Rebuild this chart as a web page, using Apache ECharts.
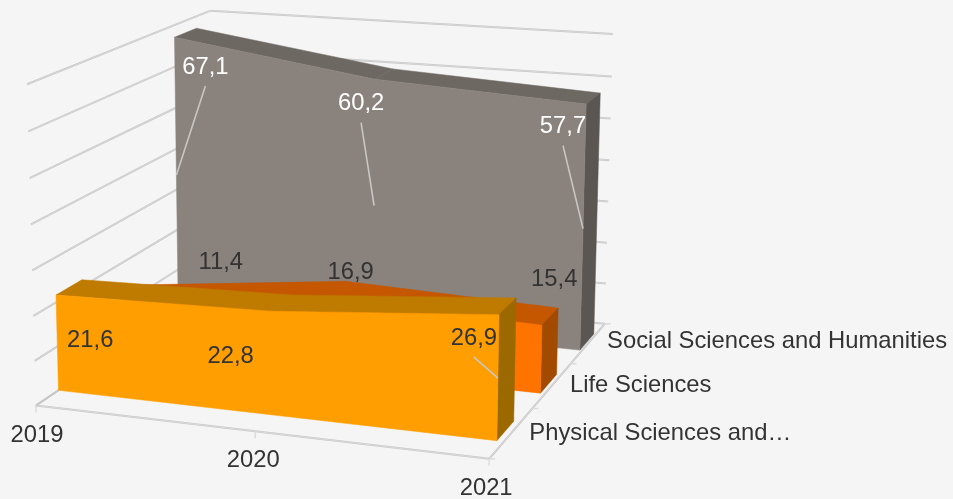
<!DOCTYPE html>
<html><head><meta charset="utf-8">
<script src="https://cdn.jsdelivr.net/npm/echarts@6/dist/echarts.min.js"></script>
<style>html,body{margin:0;padding:0;background:#f5f5f5}#c{width:953px;height:499px}</style>
</head><body><div id="c"></div>
<script>
// ---- data ----
var years = ['2019', '2020', '2021'];
var yTicks = [0, 10, 20, 30, 40, 50, 60, 70];
var depthNames = ['Physical Sciences and…', 'Life Sciences', 'Social Sciences and Humanities'];
var physical = [21.6, 22.8, 26.9];
var life = [11.4, 16.9, 15.4];
var social = [67.1, 60.2, 57.7];
var physicalText = ['21,6', '22,8', '26,9'];
var lifeText = ['11,4', '16,9', '15,4'];
var socialText = ['67,1', '60,2', '57,7'];

// ---- layout: camera anchors [x,y,z] -> pixel, used to solve a perspective matrix ----
var anchors = [
  [0,0,0,37,403],[0,0,0,37,403],[0,1,0,27,84],[1,0,0,487,460],[1,0,0,487,460],[1,0,0,487,460],[0,1,1,212,9],[1,0,1,604,321],[1,1,1,612.5,34],
  [0,0,1,212,293],[1,0,1/3,533,407],[1,0,2/3,570,362],[0,4/7,0,31,223],[1,4/7,1,607.5,159],
  [0,0,.11,57,390],[.985,0,.11,498,441],[.985,.384,.11,498,318],[0,.309,.11,55,296],
  [.985,0,.24,517,422],[.985,.384,.24,517,300],[0,.309,.24,82,279],
  [.99,0,.44,542,393],[.99,.22,.44,543,325],[.99,0,.58,558,373],[.99,.22,.58,559,310],
  [.995,0,.775,579,349],[.995,.824,.775,586,105],[0,.959,.775,175,37],
  [.995,0,.91,595,332],[.995,.824,.91,600,94],[0,.959,.91,196,28]
];
function solveCamera(a){
  var n=11,M=[],i,j,k;
  for(i=0;i<n;i++){M[i]=[];for(j=0;j<=n;j++)M[i][j]=0;}
  function add(r,b){for(var p=0;p<n;p++){for(var q=0;q<n;q++)M[p][q]+=r[p]*r[q];M[p][n]+=r[p]*b;}}
  a.forEach(function(t){var x=t[0],y=t[1],z=t[2],u=t[3],v=t[4];
    add([x,y,z,1,0,0,0,0,-u*x,-u*y,-u*z],u);
    add([0,0,0,0,x,y,z,1,-v*x,-v*y,-v*z],v);});
  for(i=0;i<n;i++){var b=i;for(k=i+1;k<n;k++)if(Math.abs(M[k][i])>Math.abs(M[b][i]))b=k;
    var t=M[i];M[i]=M[b];M[b]=t;
    for(k=0;k<n;k++){if(k===i)continue;var f=M[k][i]/M[i][i];for(j=i;j<=n;j++)M[k][j]-=f*M[i][j];}}
  var s=[];for(i=0;i<n;i++)s[i]=M[i][n]/M[i][i];return s;
}
var P=solveCamera(anchors);
function project(x,y,z){
  var w=P[8]*x+P[9]*y+P[10]*z+1;
  return [(P[0]*x+P[1]*y+P[2]*z+P[3])/w,(P[4]*x+P[5]*y+P[6]*z+P[7])/w];
}
var W=953,H=499;
// axis scale -> normalised position, through the (hidden) cartesian axes
function norm(api,i,v){var c=api.coord([i,v]);return [c[0]/W,1-c[1]/H];}
function pt(api,i,v,z,xMax){var n=norm(api,i,v);return project(n[0]*xMax,n[1],z);}

var font='23.8px "Liberation Sans", Arial, sans-serif';
var dark='#333333';
var yearLabelOffsets=[[1,30],[-2,29],[-3,30]];
var depthLabelOffsets=[[18,1],[18,0],[19,-2]];
function text(s,x,y,fill,align){return {type:'text',silent:true,style:{text:s,x:x,y:y,fill:fill,font:font,
  textAlign:align||'center',textVerticalAlign:'middle',align:align||'center',verticalAlign:'middle'}};}

var seriesCfg=[
 {name:'Social Sciences and Humanities',values:social,labels:socialText,z0:.775,z1:.91,xMax:.995,
  front:'#8a827d',top:'#6e6863',side:'#5b5652',fill:'#ffffff',
  offs:[[29,-108],[-13,-102],[-20,-102]],leader:[1,1,1]},
 {name:'Life Sciences',values:life,labels:lifeText,z0:.44,z1:.58,xMax:.99,
  front:'#ff7300',top:'#c55700',side:'#a24a00',fill:dark,
  offs:[[100,-62],[26,-61],[13,-80]],leader:[0,0,0]},
 {name:'Physical Sciences and Technology',values:physical,labels:physicalText,z0:.11,z1:.24,xMax:.985,
  front:'#ff9e00',top:'#bf7b00',side:'#9c6800',fill:dark,
  offs:[[33,-2],[-40,-7],[-24,-40]],leader:[0,0,1]}
];

function poly(points,color,z2){return {type:'polygon',silent:true,z2:z2||0,shape:{points:points},
  style:{fill:color,stroke:color,lineWidth:.5}};}
function line(a,b,color,w){return {type:'line',silent:true,shape:{x1:a[0],y1:a[1],x2:b[0],y2:b[1]},
  style:{stroke:color,lineWidth:w,fill:null}};}

function renderArea(cfg){
  return function(params,api){
    var kids=[],i=params.dataIndex,n=cfg.values.length,j;
    if(i===0){
      var fr=[],bk=[];
      for(j=0;j<n;j++){fr.push(pt(api,j,cfg.values[j],cfg.z0,cfg.xMax));bk.push(pt(api,j,cfg.values[j],cfg.z1,cfg.xMax));}
      for(j=0;j<n-1;j++)kids.push(poly([fr[j],fr[j+1],bk[j+1],bk[j]],cfg.top));
      var last=n-1;
      kids.push(poly([fr[last],bk[last],pt(api,last,0,cfg.z1,cfg.xMax),pt(api,last,0,cfg.z0,cfg.xMax)],cfg.side));
      var face=fr.slice();
      face.push(pt(api,last,0,cfg.z0,cfg.xMax));face.push(pt(api,0,0,cfg.z0,cfg.xMax));
      kids.push(poly(face,cfg.front));
    }
    return {type:'group',children:kids};
  };
}
function renderLabels(cfg){
  return function(params,api){
    var i=params.dataIndex,v=cfg.values[i];
    var mid=pt(api,i,v/2,cfg.z0,cfg.xMax);
    var o=cfg.offs[i];
    var x=mid[0]+o[0],y=mid[1]+o[1];
    var kids=[];
    if(cfg.leader[i])kids.push(line(mid,[x,y+19],'#c9c6c3',1.6));
    kids.push(text(cfg.labels[i],x,y,cfg.fill));
    return {type:'group',children:kids};
  };
}
function renderWalls(params,api){
  var v=yTicks[params.dataIndex];
  var n0=norm(api,0,v),n1=norm(api,years.length-1,v);
  var a=project(n0[0],n0[1],0),b=project(n0[0],n0[1],1),c=project(n1[0],n1[1],1);
  return {type:'group',children:[line(a,b,'#c6c6c6',2),line(a,b,'#e4e4e4',.6),line(b,c,'#c6c6c6',2),line(b,c,'#e4e4e4',.6)]};
}
function renderFloor(params,api){
  var i=params.dataIndex,kids=[];
  var n=norm(api,i,0),a=project(n[0],n[1],0);
  var last=years.length-1;
  if(i===0){
    var nl=norm(api,last,0);
    var c=project(nl[0],nl[1],0),g=project(nl[0],nl[1],1),d=project(n[0],n[1],1);
    kids.push(line(a,c,'#c6c6c6',2),line(a,c,'#e8e8e8',.6),line(c,g,'#c6c6c6',2),line(c,g,'#e8e8e8',.6),line(a,d,'#c6c6c6',1.6));
    for(var k=0;k<=depthNames.length;k++){
      var t=project(nl[0],nl[1],k/depthNames.length);
      kids.push(line(t,[t[0]+6,t[1]],'#dcdcdc',1.5));
    }
    depthNames.forEach(function(name,k){
      var t=project(nl[0],nl[1],(k+.5)/depthNames.length);
      var o=depthLabelOffsets[k];
      kids.push(text(name,t[0]+o[0],t[1]+o[1],dark,'left'));
    });
  }
  kids.push(line(a,[a[0],a[1]+7],'#dcdcdc',1.5));
  var yo=yearLabelOffsets[i];
  kids.push(text(years[i],a[0]+yo[0],a[1]+yo[1],dark));
  return {type:'group',children:kids};
}
function rows(vals){return vals.map(function(v,i){return [i,v];});}
var series=[
 {type:'custom',name:'walls',coordinateSystem:'cartesian2d',clip:false,z:1,silent:true,data:yTicks.map(function(v){return [0,v];}),renderItem:renderWalls},
 {type:'custom',name:'floor',coordinateSystem:'cartesian2d',clip:false,z:2,silent:true,data:rows(years.map(function(){return 0;})),renderItem:renderFloor}
];
seriesCfg.forEach(function(cfg,k){
  series.push({type:'custom',name:cfg.name,coordinateSystem:'cartesian2d',clip:false,z:3+k,silent:true,data:rows(cfg.values),renderItem:renderArea(cfg)});
});
seriesCfg.forEach(function(cfg,k){
  series.push({type:'custom',name:cfg.name+' labels',coordinateSystem:'cartesian2d',clip:false,z:10+k,silent:true,data:rows(cfg.values),renderItem:renderLabels(cfg)});
});
var chart=echarts.init(document.getElementById('c'),null,{renderer:'canvas',width:W,height:H});
chart.setOption({
  animation:false,backgroundColor:'#f5f5f5',
  grid:{left:0,right:0,top:0,bottom:0},
  xAxis:{type:'category',data:years,boundaryGap:false,show:false},
  yAxis:{type:'value',min:0,max:70,interval:10,show:false},
  series:series
});
</script></body></html>
